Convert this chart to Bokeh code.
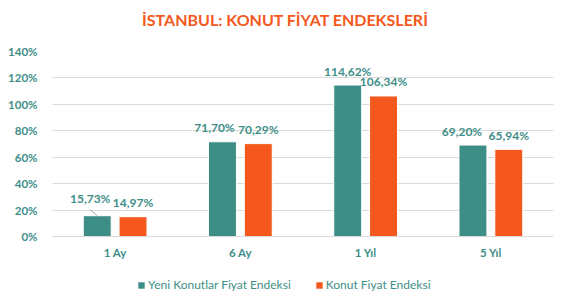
from bokeh.plotting import figure
from bokeh.layouts import column
from bokeh.models import (ColumnDataSource, FactorRange, FixedTicker, PrintfTickFormatter,
                          Legend, LegendItem, Div)
from bokeh.transform import dodge
from bokeh.embed import file_html
from bokeh.resources import INLINE

# Data
periods = ["1 Ay", "6 Ay", "1 Yıl", "5 Yıl"]
yeni_konut = [15.73, 71.70, 114.62, 69.20]
konut = [14.97, 70.29, 106.34, 65.94]
series_names = ["Yeni Konutlar Fiyat Endeksi", "Konut Fiyat Endeksi"]
y_ticks = [0, 20, 40, 60, 80, 100, 120, 140]
chart_title = "İSTANBUL: KONUT FİYAT ENDEKSLERİ"

TEAL = "#3E8E88"
ORANGE = "#F4581D"
TEXT = "#3E8E88"
GRID = "#D9D9D9"
FONT = "Lato"


def fmt(v):
    return f"{v:.2f}".replace(".", ",") + "%"


src = ColumnDataSource(dict(
    period=periods,
    yeni=yeni_konut,
    konut=konut,
    yeni_lbl=[fmt(v) for v in yeni_konut],
    konut_lbl=[fmt(v) for v in konut],
    # small horizontal nudges so neighbouring labels do not collide
    yeni_dx=[-7, -8, 0, -11],
    yeni_dy=[-17, -14, -14, -14],
))

# title strip
head = Div(text=chart_title, width=570, height=40, margin=0,
           styles={"font-family": FONT, "font-size": "16px", "font-weight": "bold",
                   "color": ORANGE, "text-align": "center", "line-height": "40px",
                   "width": "570px"})

p = figure(width=570, height=226, x_range=FactorRange(*periods), y_range=(0, 140),
           output_backend="svg", toolbar_location=None,
           min_border_left=52, min_border_right=17, min_border_top=11, min_border_bottom=30)
p.title = None
p.outline_line_color = None
p.background_fill_color = "white"
p.border_fill_color = "white"

off, w = 0.143, 0.223
r1 = p.vbar(x=dodge("period", -off, range=p.x_range), top="yeni", width=w, source=src,
            fill_color=TEAL, line_color="white", line_width=1)
r2 = p.vbar(x=dodge("period", off, range=p.x_range), top="konut", width=w, source=src,
            fill_color=ORANGE, line_color="white", line_width=1)

# leader line for the first label
lead = ColumnDataSource(dict(period=periods[:1], y0=[yeni_konut[0] + 4.5], y1=[yeni_konut[0]]))
p.segment(x0=dodge("period", -off - 0.055, range=p.x_range), y0="y0",
          x1=dodge("period", -off, range=p.x_range), y1="y1",
          source=lead, line_color="#A6A6A6", line_width=1)

p.text(x=dodge("period", -off, range=p.x_range), y="yeni", text="yeni_lbl", source=src,
       x_offset="yeni_dx", y_offset="yeni_dy", text_align="center", text_baseline="middle",
       text_font={"value": FONT}, text_font_size="12px", text_font_style="bold",
       text_color=TEXT)
p.text(x=dodge("period", off, range=p.x_range), y="konut", text="konut_lbl", source=src,
       y_offset=-14, text_align="center", text_baseline="middle",
       text_font={"value": FONT}, text_font_size="12px", text_font_style="bold",
       text_color=TEXT)

# axes
p.yaxis.ticker = FixedTicker(ticks=y_ticks)
p.yaxis.formatter = PrintfTickFormatter(format="%d%%")
p.yaxis.axis_line_color = None
p.yaxis.major_tick_line_color = None
p.yaxis.minor_tick_line_color = None
p.yaxis.major_label_standoff = 9
p.yaxis.major_label_text_font = FONT
p.yaxis.major_label_text_font_size = "11.5px"
p.yaxis.major_label_text_font_style = "bold"
p.yaxis.major_label_text_color = TEXT

p.xaxis.axis_line_color = GRID
p.xaxis.major_tick_line_color = None
p.xaxis.major_label_standoff = 3
p.xaxis.major_label_text_font = FONT
p.xaxis.major_label_text_font_size = "11.5px"
p.xaxis.major_label_text_font_style = "bold"
p.xaxis.major_label_text_color = TEXT

p.xgrid.grid_line_color = None
p.ygrid.grid_line_color = GRID
p.ygrid.grid_line_width = 1

# legend strip under the chart; the swatch renderers sit below the visible range
lg = figure(width=570, height=32, x_range=(0, 1), y_range=(0, 1),
            output_backend="svg", toolbar_location=None,
            x_axis_type=None, y_axis_type=None,
            min_border_left=0, min_border_right=0, min_border_top=0, min_border_bottom=0)
lg.title = None
lg.outline_line_color = None
lg.border_fill_color = "white"
lg.grid.visible = False
g1 = lg.vbar(x=[0.5], top=[-1], bottom=[-2], width=0.1, fill_color=TEAL, line_color=None)
g2 = lg.vbar(x=[0.5], top=[-1], bottom=[-2], width=0.1, fill_color=ORANGE, line_color=None)
legend = Legend(items=[LegendItem(label=series_names[0], renderers=[g1]),
                       LegendItem(label=series_names[1], renderers=[g2])],
                orientation="horizontal", location=(85, 6),
                label_text_font=FONT, label_text_font_size="12px", label_text_color=TEXT,
                glyph_width=8, glyph_height=8, label_standoff=3, spacing=24,
                border_line_color=None, background_fill_alpha=0,
                padding=2, margin=0)
lg.add_layout(legend, "center")

open("out.html", "w").write(file_html(column(head, p, lg, spacing=0), INLINE))
